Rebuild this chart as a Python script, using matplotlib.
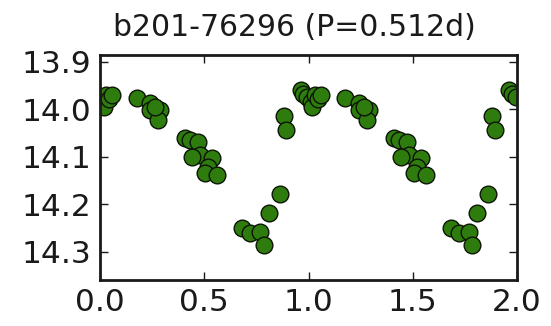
import numpy as np
import matplotlib
matplotlib.use("Agg")
import matplotlib.pyplot as plt

# folded light curve, one cycle (phase, mag); drawn twice (phase and phase+1)
phase = [0.962, 0.975, 0.994, 0.010, 0.018, 0.030, 0.045, 0.058,
         0.176, 0.240, 0.240, 0.288, 0.279, 0.265,
         0.409, 0.433, 0.471, 0.481, 0.442, 0.538, 0.519, 0.505, 0.563,
         0.683, 0.721, 0.769, 0.784, 0.808, 0.861, 0.880, 0.894]
mag = [13.960, 13.968, 13.974, 13.985, 13.995, 13.970, 13.978, 13.971,
       13.977, 13.987, 14.002, 14.002, 14.023, 13.995,
       14.061, 14.065, 14.070, 14.097, 14.101, 14.103, 14.122, 14.135, 14.139,
       14.251, 14.261, 14.259, 14.286, 14.219, 14.179, 14.015, 14.044]

title = "b201-76296 (P=0.512d)"
xticks = [0.0, 0.5, 1.0, 1.5, 2.0]
yticks = [13.9, 14.0, 14.1, 14.2, 14.3]

ph = np.array(phase)
mg = np.array(mag)

fig = plt.figure(figsize=(5.51, 3.26), dpi=100)
ax = fig.add_axes([0.1815, 0.141, 0.757, 0.690])

ax.plot(np.concatenate([ph, ph + 1]), np.concatenate([mg, mg]), "o",
        ms=12, mfc="#2e7b0e", mec="#0c1505", mew=1.0)

ax.set_xlim(0, 2)
ax.set_ylim(14.36, 13.886)
ax.set_xticks(xticks)
ax.set_yticks(yticks)
ax.set_xticklabels([f"{v:.1f}" for v in xticks])
ax.set_yticklabels([f"{v:.1f}" for v in yticks])
ax.tick_params(direction="in", top=True, right=True, length=6, width=1,
               labelsize=22.5, colors="#1a1a1a", pad=6)
for sp in ax.spines.values():
    sp.set_linewidth(2)
    sp.set_color("#1a1a1a")
ax.set_title(title, fontsize=21.5, pad=14, color="#1a1a1a", x=0.465)

fig.savefig("out.png", dpi=100)
